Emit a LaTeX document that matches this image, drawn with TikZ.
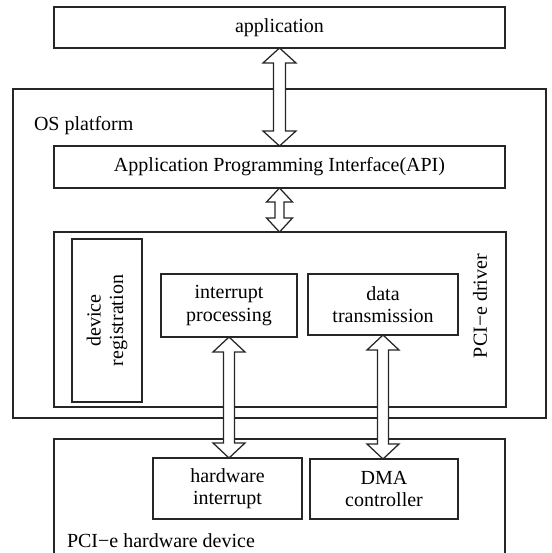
\documentclass[tikz,border=0pt]{standalone}
\usepackage{fontspec}
\setmainfont{Liberation Serif}
\usetikzlibrary{calc}
\tikzset{
  box/.style={draw=black!85, line width=1.25pt, inner sep=0pt, outer sep=0pt,
    align=center, font=\fontsize{20}{22.5}\selectfont},
  lbl/.style={inner sep=0pt, outer sep=0pt, font=\fontsize{20}{22.5}\selectfont},
  fatarrow/.style={draw=black!85, line width=1.25pt, fill=white, line join=miter}
}
% #1 upper node anchor, #2 lower node anchor, #3 head width, #4 head length, #5 shaft width
\newcommand\dblarrow[5]{%
  \path[fatarrow] let \p1=(#1), \p2=(#2) in
    (\x1,\y1) -- ({\x1+#3pt/2},{\y1-#4pt}) -- ({\x1+#5pt/2},{\y1-#4pt})
    -- ({\x1+#5pt/2},{\y2+#4pt}) -- ({\x1+#3pt/2},{\y2+#4pt}) -- (\x1,\y2)
    -- ({\x1-#3pt/2},{\y2+#4pt}) -- ({\x1-#5pt/2},{\y2+#4pt})
    -- ({\x1-#5pt/2},{\y1-#4pt}) -- ({\x1-#3pt/2},{\y1-#4pt}) -- cycle;}
\begin{document}
\begin{tikzpicture}[x=1pt,y=-1pt]
\useasboundingbox (0,0) rectangle (551,553);
\fill[white] (0,0) rectangle (551,553);
\clip (0,0) rectangle (551,553);
% outer boxes
\node[box, minimum width=533pt, minimum height=329pt] (os) at (279.5,253.5) {};
\node[box, minimum width=451pt, minimum height=131pt] (hw) at (279.5,504.5) {};
% application
\node[box, minimum width=451pt, minimum height=41pt] (app) at (279.5,27.5) {application};
\node[lbl, anchor=base west] (osl) at (34,131) {OS platform};
\node[box, minimum width=451pt, minimum height=42pt] (api) at (279.5,167) {Application Programming Interface(API)};
% driver
\node[box, minimum width=452pt, minimum height=175pt] (drv) at (280,319.5) {};
\node[box, rotate=90, minimum width=163pt, minimum height=70pt] (dr) at (107,320.5) {device\\registration};
\node[box, minimum width=136pt, minimum height=63pt] (ip) at (229,305.5) {interrupt\\processing};
\node[box, minimum width=150pt, minimum height=61pt] (dt) at (383,304.5) {data\\transmission};
\node[lbl, rotate=90] (drvl) at (480,306) {PCI−e driver};
% hardware
\node[box, minimum width=149pt, minimum height=61pt] (hwi) at (227.5,488.5) {hardware\\interrupt};
\node[box, minimum width=148pt, minimum height=60pt] (dma) at (384,489) {DMA\\controller};
\node[lbl, anchor=base west] (hwl) at (67,547) {PCI−e hardware device};
% arrows
\dblarrow{app.south}{api.north}{33}{15}{12}
\dblarrow{api.south}{drv.north}{26}{14}{9}
\dblarrow{ip.south}{hwi.north}{32}{15}{11}
\dblarrow{dt.south}{dma.north}{32}{15}{11}
\end{tikzpicture}
\end{document}
